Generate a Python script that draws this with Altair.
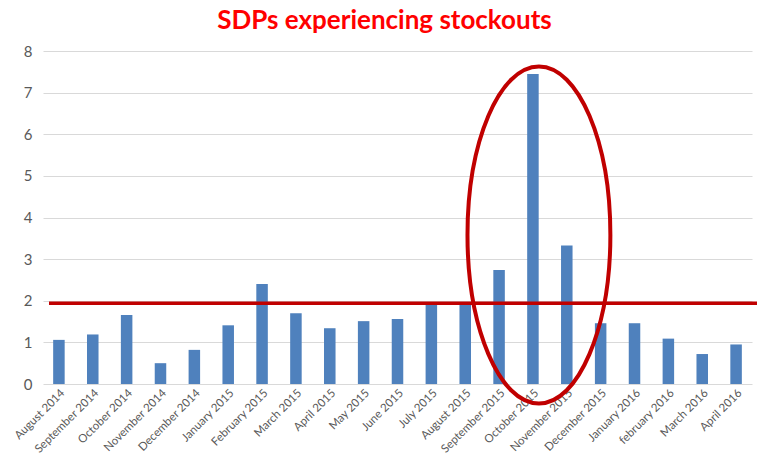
import altair as alt
import pandas as pd

months = ["August 2014", "September 2014", "October 2014", "November 2014", "December 2014",
          "January 2015", "February 2015", "March 2015", "April 2015", "May 2015", "June 2015",
          "July 2015", "August 2015", "September 2015", "October 2015", "November 2015",
          "December 2015", "January 2016", "february 2016", "March 2016", "April 2016"]
values = [1.06, 1.19, 1.66, 0.50, 0.82, 1.41, 2.40, 1.70, 1.34, 1.51, 1.56,
          1.90, 1.90, 2.74, 7.45, 3.33, 1.46, 1.46, 1.09, 0.72, 0.95]
threshold = [1.94]
highlight_month = ["October 2015"]
highlight_center = [3.58]

df = pd.DataFrame({"month": months, "value": values})
df_rule = pd.DataFrame({"t": threshold})
df_ell = pd.DataFrame({"month": highlight_month, "value": highlight_center})

W, H = 709, 333
FONT = "Lato"

xscale = alt.Scale(domain=months, paddingInner=0.66, paddingOuter=0.3)
yscale = alt.Scale(domain=[0, 8])

bars = alt.Chart(df).mark_bar(color="#4F81BD").encode(
    x=alt.X("month:N", scale=xscale, sort=months, title=None,
            axis=alt.Axis(labelAngle=-45, labelAlign="right", labelBaseline="top",
                          labelFontSize=11.5, labelColor="#595959", labelFont=FONT,
                          ticks=False, domain=False, labelPadding=3, grid=False)),
    y=alt.Y("value:Q", scale=yscale, title=None,
            axis=alt.Axis(values=list(range(0, 9)), labelFontSize=15, labelColor="#595959",
                          labelFont=FONT, ticks=False, domain=False, labelPadding=11,
                          gridColor="#D9D9D9", gridWidth=1)),
)

rule = alt.Chart(df_rule).mark_rule(color="#C00000", strokeWidth=3.5).encode(
    y=alt.Y("t:Q", scale=yscale),
    x=alt.value(6),
    x2=alt.value(W + 5),
)

ellipse_shape = "M 0 -1 A 0.424 1 0 1 1 0 1 A 0.424 1 0 1 1 0 -1 Z"
ell = alt.Chart(df_ell).mark_point(
    shape=ellipse_shape, size=113569, filled=False, color="#C00000",
    strokeWidth=4, opacity=1, xOffset=6
).encode(
    x=alt.X("month:N", scale=xscale, sort=months),
    y=alt.Y("value:Q", scale=yscale),
)

chart = alt.layer(bars, rule, ell).properties(
    width=W, height=H,
    title=alt.TitleParams("SDPs experiencing stockouts", font=FONT, fontSize=26,
                          fontWeight="bold", color="#FF0000", anchor="middle",
                          offset=10, dx=-13),
    autosize=alt.AutoSizeParams(type="none"),
    padding={"left": 35, "top": 43, "right": 5, "bottom": 74},
).configure_view(stroke=None)

chart.save("out.html", embed_options={"renderer": "svg", "actions": False})
